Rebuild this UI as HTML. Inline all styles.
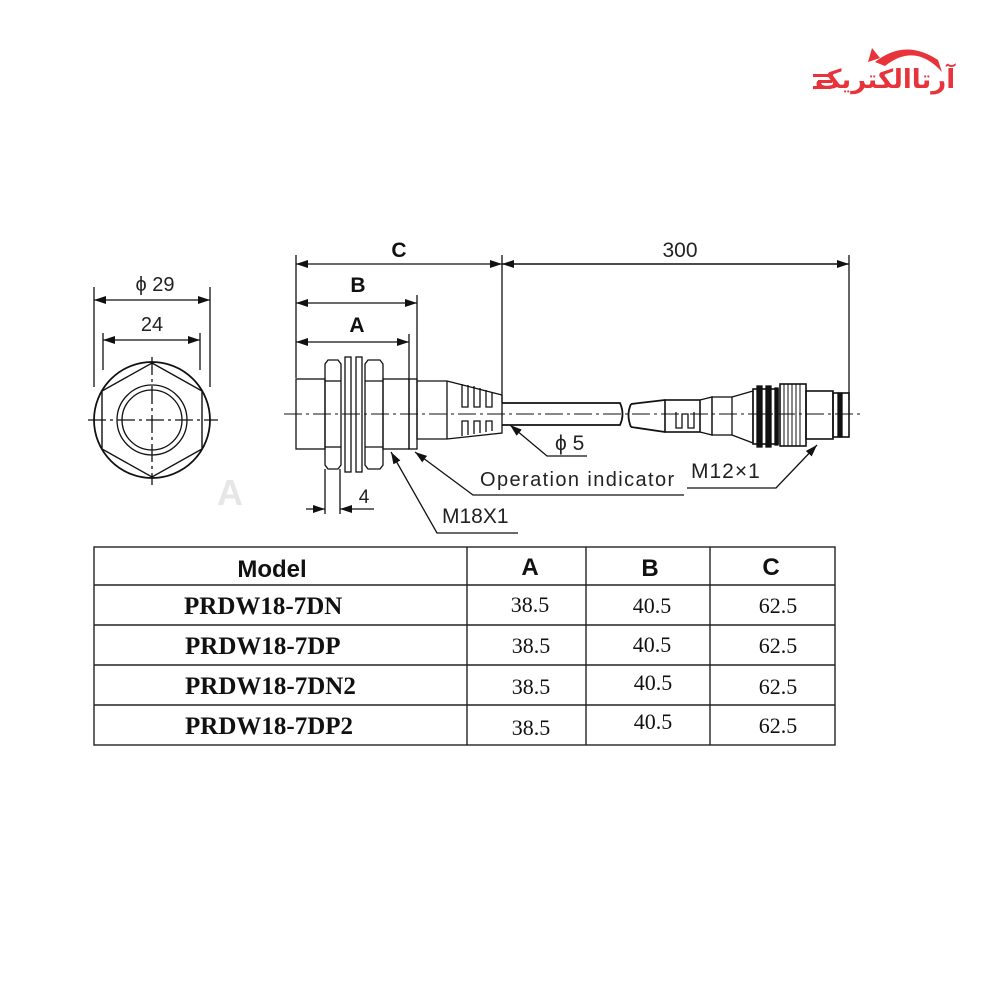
<!DOCTYPE html>
<html><head><meta charset="utf-8"><style>
html,body{margin:0;padding:0;background:#fff;}
svg{display:block;}
</style></head><body>
<svg width="1000" height="1000" viewBox="0 0 1000 1000" xmlns="http://www.w3.org/2000/svg">
<defs>
<marker id="ar" viewBox="0 0 12 8" refX="12" refY="4" markerWidth="12" markerHeight="8" markerUnits="userSpaceOnUse" orient="auto-start-reverse"><path d="M0,0 L12,4 L0,8 z" fill="#111"/></marker>
</defs>
<rect width="1000" height="1000" fill="#fff"/>

<!-- logo -->
<g fill="#e8333b">
<path d="M875,62 Q905,38 938,60 L942,72 Q915,42 885,66 z"/>
<path d="M872,48 L880,58 L868,62 z"/>
<rect x="813" y="74" width="18" height="3"/><rect x="818" y="80" width="14" height="3"/><rect x="813" y="86" width="18" height="3"/>
</g>
<text x="885" y="88" font-family="'Liberation Sans','DejaVu Sans',sans-serif" font-size="26" font-weight="bold" fill="#e8333b" text-anchor="middle">آرتاالکتریک</text>

<!-- watermark -->
<text x="230" y="505" font-family="'Liberation Sans',sans-serif" font-size="36" font-weight="bold" fill="#e6e6e6" text-anchor="middle">A</text>

<g stroke="#111" fill="none" stroke-width="1.3">
<!-- left view -->
<line x1="94" y1="287" x2="94" y2="387"/><line x1="210" y1="287" x2="210" y2="387"/>
<line x1="94" y1="300" x2="210" y2="300" marker-start="url(#ar)" marker-end="url(#ar)"/>
<line x1="103" y1="333" x2="103" y2="370"/><line x1="200" y1="333" x2="200" y2="370"/>
<line x1="103" y1="340" x2="200" y2="340" marker-start="url(#ar)" marker-end="url(#ar)"/>
<circle cx="152" cy="420" r="58" stroke-width="1.8"/>
<polygon points="152,363 202,391 202,449 152,477 102,449 102,391" stroke-width="1.4"/>
<circle cx="152" cy="420" r="35"/>
<circle cx="152" cy="420" r="30"/>
<line x1="88" y1="420" x2="218" y2="420" stroke-dasharray="18,4,3,4"/>
<line x1="152" y1="357" x2="152" y2="485" stroke-dasharray="18,4,3,4"/>

<!-- dimension lines right -->
<line x1="296" y1="255" x2="296" y2="378"/>
<line x1="502" y1="255" x2="502" y2="403"/>
<line x1="849" y1="255" x2="849" y2="400"/>
<line x1="417" y1="295" x2="417" y2="380"/>
<line x1="409" y1="334" x2="409" y2="380"/>
<line x1="296" y1="264" x2="502" y2="264" marker-start="url(#ar)" marker-end="url(#ar)"/>
<line x1="502" y1="264" x2="849" y2="264" marker-start="url(#ar)" marker-end="url(#ar)" stroke-width="1.6"/>
<line x1="296" y1="303" x2="417" y2="303" marker-start="url(#ar)" marker-end="url(#ar)"/>
<line x1="296" y1="342" x2="409" y2="342" marker-start="url(#ar)" marker-end="url(#ar)"/>

<!-- sensor body -->
<rect x="296" y="379" width="29" height="70"/>
<path d="M328,360 L338,360 L341,364 L341,465 L338,469 L328,469 L325,465 L325,364 z"/>
<line x1="325" y1="381" x2="341" y2="381"/><line x1="325" y1="447" x2="341" y2="447"/>
<rect x="345" y="357" width="6" height="115"/>
<rect x="356" y="357" width="6" height="115"/>
<path d="M368,360 L380,360 L383,364 L383,465 L380,469 L368,469 L365,465 L365,364 z"/>
<line x1="365" y1="381" x2="383" y2="381"/><line x1="365" y1="447" x2="383" y2="447"/>
<rect x="383" y="379" width="26" height="70"/>
<rect x="409" y="379" width="8" height="70"/>
<!-- gland -->
<path d="M417,381 L447,381 L502,395 L502,433 L447,439 L417,439 z"/>
<line x1="447" y1="381" x2="447" y2="439"/>
<path d="M462,384 V407 H468 V385 M474,386 V407 H480 V388 M486,390 V407 H492 V392"/>
<path d="M462,436 V421 H468 V435 M474,434 V421 H480 V433 M486,432 V421 H492 V431"/>
<!-- cable -->
<path d="M502,403 L620,403 Q625,414 620,425 L502,425" stroke-width="1.8"/>
<path d="M631,404 L665,400 M631,427 L665,432 M631,404 Q626,415 631,427" stroke-width="1.8"/>
<!-- connector -->
<rect x="665" y="400" width="35" height="32" stroke-width="1.6"/>
<path d="M676,412 V428 H682 V414 H688 V428 H694 V412"/>
<path d="M700,400 L712,397 L712,435 L700,432"/>
<rect x="712" y="397" width="20" height="38"/>
<path d="M732,397 L753,391 L753,443 L732,435"/>
<rect x="753" y="389" width="25" height="55" stroke-width="1.6"/>
<rect x="757" y="386" width="5" height="61" fill="#111"/>
<rect x="766" y="386" width="5" height="61" fill="#111"/>
<rect x="775" y="388" width="3" height="57" fill="#111"/>
<rect x="780" y="384" width="26" height="62" stroke-width="1.6"/>
<path d="M784,384 V446 M788,384 V446 M792,384 V446 M796,384 V446 M800,384 V446" stroke-width="1"/>
<rect x="806" y="391" width="27" height="48" stroke-width="1.6"/>
<rect x="833" y="393" width="16" height="44" stroke-width="1.6"/>
<rect x="838" y="393" width="4" height="44" fill="#111"/>
<!-- centerline -->
<line x1="284" y1="414" x2="862" y2="414" stroke-dasharray="18,4,3,4" stroke-width="1"/>

<!-- 4 dim -->
<line x1="325" y1="469" x2="325" y2="514"/><line x1="340" y1="469" x2="340" y2="514"/>
<line x1="306" y1="509" x2="325" y2="509" marker-end="url(#ar)"/>
<line x1="374" y1="509" x2="340" y2="509" marker-end="url(#ar)"/>

<!-- leaders -->
<polyline points="518,533 437,533 391,452" marker-end="url(#ar)"/>
<polyline points="684,495 473,495 415,452" marker-end="url(#ar)"/>
<polyline points="587,456 547,456 510,425" marker-end="url(#ar)"/>
<polyline points="687,488 776,488 817,445" marker-end="url(#ar)"/>
</g>

<g font-family="'Liberation Sans',sans-serif" fill="#222">
<text x="155" y="291" font-size="20" text-anchor="middle">ϕ 29</text>
<text x="152" y="331" font-size="20" text-anchor="middle">24</text>
<text x="399" y="257" font-size="21" font-weight="bold" text-anchor="middle" fill="#111">C</text>
<text x="680" y="257" font-size="21" text-anchor="middle">300</text>
<text x="358" y="292" font-size="21" font-weight="bold" text-anchor="middle" fill="#111">B</text>
<text x="357" y="332" font-size="21" font-weight="bold" text-anchor="middle" fill="#111">A</text>
<text x="364" y="503" font-size="19" text-anchor="middle">4</text>
<text x="442" y="523" font-size="21">M18X1</text>
<text x="480" y="486" font-size="20" letter-spacing="1.4">Operation indicator</text>
<text x="555" y="450" font-size="21">ϕ 5</text>
<text x="691" y="478" font-size="21" letter-spacing="1">M12×1</text>
</g>

<!-- table -->
<g stroke="#222" stroke-width="1.4" fill="none">
<rect x="94" y="547" width="741" height="198"/>
<line x1="94" y1="585" x2="835" y2="585"/>
<line x1="94" y1="625" x2="835" y2="625"/>
<line x1="94" y1="665" x2="835" y2="665"/>
<line x1="94" y1="705" x2="835" y2="705"/>
<line x1="467" y1="547" x2="467" y2="745"/>
<line x1="586" y1="547" x2="586" y2="745"/>
<line x1="710" y1="547" x2="710" y2="745"/>
</g>
<g fill="#111">
<g font-family="'Liberation Sans',sans-serif" font-weight="bold" font-size="24" text-anchor="middle">
<text x="272" y="577">Model</text>
<text x="530" y="575">A</text>
<text x="650" y="576">B</text>
<text x="771" y="575">C</text>
</g>
<g font-family="'Liberation Serif',serif" font-weight="bold" font-size="25">
<text x="184" y="614">PRDW18-7DN</text>
<text x="185" y="654">PRDW18-7DP</text>
<text x="185" y="694">PRDW18-7DN2</text>
<text x="185" y="734">PRDW18-7DP2</text>
</g>
<g font-family="'Liberation Serif',serif" font-size="22" text-anchor="middle">
<text x="530" y="612">38.5</text><text x="652" y="613">40.5</text><text x="778" y="613">62.5</text>
<text x="531" y="653">38.5</text><text x="652" y="652">40.5</text><text x="778" y="653">62.5</text>
<text x="531" y="694">38.5</text><text x="653" y="690">40.5</text><text x="778" y="694">62.5</text>
<text x="531" y="735">38.5</text><text x="653" y="729">40.5</text><text x="778" y="733">62.5</text>
</g>
</g>
</svg>
</body></html>
